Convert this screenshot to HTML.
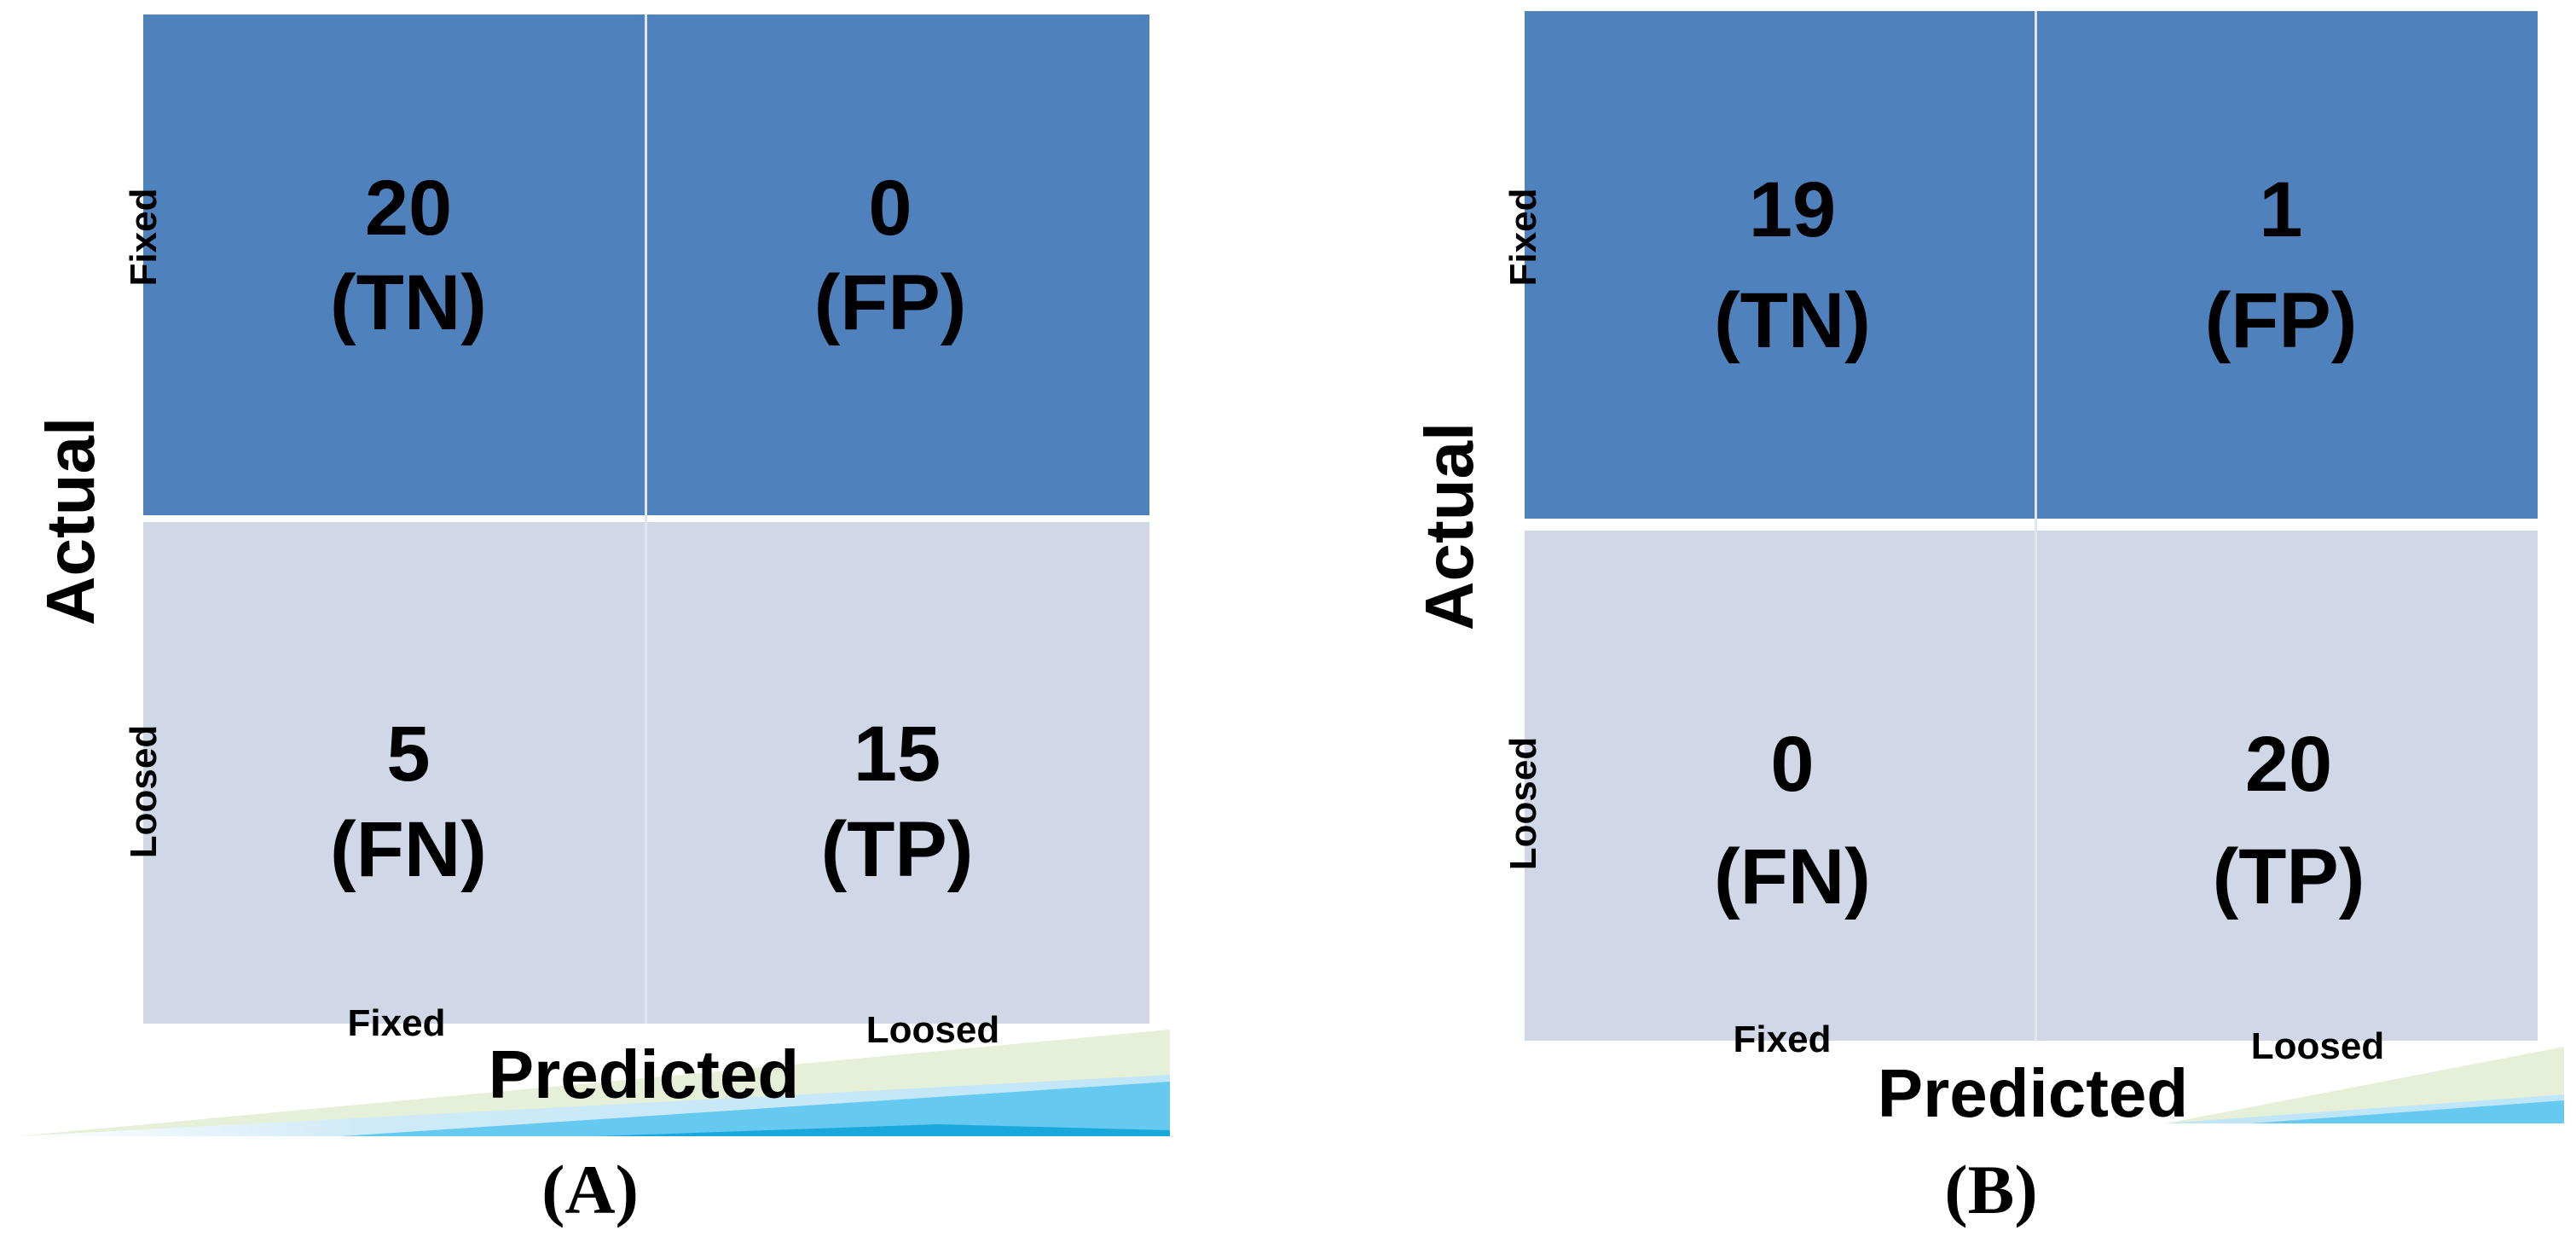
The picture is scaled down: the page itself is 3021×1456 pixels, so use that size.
<!DOCTYPE html>
<html><head><meta charset="utf-8"><style>
html,body{margin:0;padding:0;background:#fff;}
svg{display:block;}
.n{font-family:"Liberation Sans",sans-serif;font-weight:bold;font-size:92px;fill:#000;text-anchor:middle;}
.s{font-family:"Liberation Sans",sans-serif;font-weight:bold;font-size:44px;fill:#000;text-anchor:middle;}
.a{font-family:"Liberation Sans",sans-serif;font-weight:bold;font-size:80px;fill:#000;text-anchor:middle;}
.c{font-family:"Liberation Serif",serif;font-weight:bold;font-size:82px;fill:#000;text-anchor:middle;}
</style></head><body>
<svg width="3021" height="1456" viewBox="0 0 3021 1456" xmlns="http://www.w3.org/2000/svg">
<defs>
<linearGradient id="ga" x1="0" x2="1" y1="0" y2="0">
<stop offset="0" stop-color="#ffffff"/><stop offset="0.3" stop-color="#cfeaf8"/><stop offset="1" stop-color="#bfe6f8"/></linearGradient>
</defs>
<!-- Panel A -->
<rect x="168" y="17" width="1180" height="587" fill="#4f81bd"/>
<rect x="168" y="612" width="1180" height="588" fill="#d0d8e8"/>
<rect x="756" y="17" width="3" height="1183" fill="#dfe6f0"/>
<!-- wave A -->
<polygon points="20,1332 1372,1207 1372,1332" fill="#e6f0d8"/>
<polygon points="20,1332 1372,1260 1372,1332" fill="url(#ga)"/>
<polygon points="400,1332 1372,1268 1372,1332" fill="#66c9f0"/>
<polygon points="700,1332 1100,1318 1372,1325 1372,1332" fill="#1aa8dc"/>
<text class="n" x="479" y="275">20</text><text class="n" x="479" y="386">(TN)</text>
<text class="n" x="1044" y="275">0</text><text class="n" x="1044" y="386">(FP)</text>
<text class="n" x="479" y="915">5</text><text class="n" x="479" y="1027">(FN)</text>
<text class="n" x="1052" y="915">15</text><text class="n" x="1052" y="1027">(TP)</text>
<text class="s" transform="translate(183,278) rotate(-90)">Fixed</text>
<text class="s" transform="translate(183,928) rotate(-90)">Loosed</text>
<text class="a" transform="translate(110,611) rotate(-90)">Actual</text>
<text class="s" x="465" y="1214">Fixed</text>
<text class="s" x="1094" y="1222">Loosed</text>
<text class="a" x="755" y="1287">Predicted</text>
<text class="c" x="692" y="1422">(A)</text>
<!-- Panel B -->
<rect x="1788" y="13" width="1188" height="595" fill="#4f81bd"/>
<rect x="1788" y="622" width="1188" height="598" fill="#d0d8e8"/>
<rect x="2386" y="13" width="3" height="1207" fill="#dfe6f0"/>
<polygon points="2540,1317 3007,1227 3007,1317" fill="#e6f0d8"/>
<polygon points="2540,1317 3007,1283 3007,1317" fill="#bfe6f8"/>
<polygon points="2640,1317 3007,1290 3007,1317" fill="#66c9f0"/>
<text class="n" x="2102" y="277">19</text><text class="n" x="2102" y="407">(TN)</text>
<text class="n" x="2675" y="277">1</text><text class="n" x="2675" y="407">(FP)</text>
<text class="n" x="2102" y="927">0</text><text class="n" x="2102" y="1059">(FN)</text>
<text class="n" x="2684" y="927">20</text><text class="n" x="2684" y="1059">(TP)</text>
<text class="s" transform="translate(1801,278) rotate(-90)">Fixed</text>
<text class="s" transform="translate(1801,942) rotate(-90)">Loosed</text>
<text class="a" transform="translate(1727,617) rotate(-90)">Actual</text>
<text class="s" x="2090" y="1233">Fixed</text>
<text class="s" x="2718" y="1241">Loosed</text>
<text class="a" x="2384" y="1309">Predicted</text>
<text class="c" x="2335" y="1422">(B)</text>
</svg>
</body></html>
